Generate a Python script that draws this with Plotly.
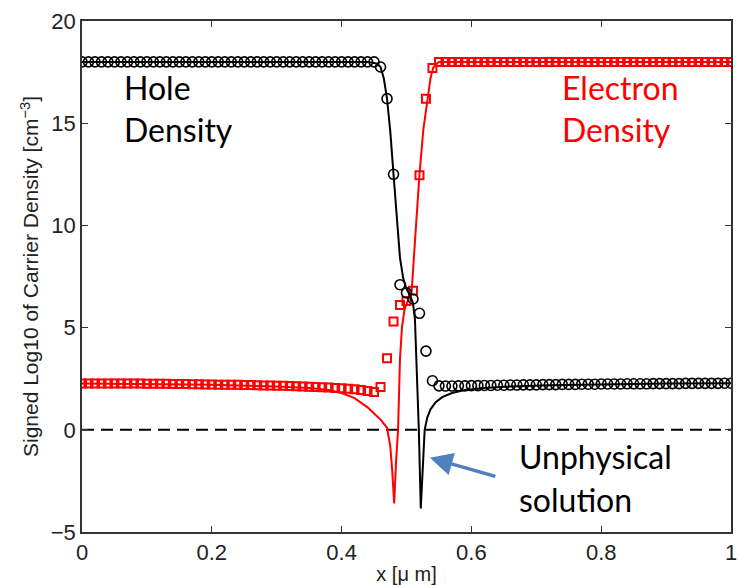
import plotly.graph_objects as go

# ---------------- data ----------------
# marker grid (x in um)
marker_x = [round(i * 0.01, 2) for i in range(101)]

# hole density markers (black circles)
hole_markers = ([18.0] * 46 +
                [17.75, 16.2, 12.5, 7.1, 6.7, 6.4, 5.7, 3.85, 2.4, 2.15,
                 2.14, 2.14, 2.15, 2.15, 2.16, 2.16, 2.17, 2.17, 2.18, 2.18,
                 2.19, 2.19, 2.2, 2.2, 2.2, 2.21, 2.21, 2.21, 2.22, 2.22,
                 2.22, 2.23, 2.23, 2.23, 2.24, 2.24, 2.24, 2.24, 2.25, 2.25,
                 2.25, 2.25, 2.26, 2.26, 2.26, 2.26, 2.26, 2.27, 2.27, 2.27,
                 2.27, 2.27, 2.27, 2.28, 2.28])

# electron density markers (red squares)
electron_markers = ([2.27, 2.27, 2.27, 2.27, 2.27, 2.27, 2.26, 2.26, 2.26, 2.26,
                     2.25, 2.25, 2.25, 2.25, 2.24, 2.24, 2.24, 2.23, 2.23, 2.22,
                     2.22, 2.21, 2.21, 2.2, 2.2, 2.19, 2.19, 2.18, 2.17, 2.17,
                     2.16, 2.15, 2.14, 2.13, 2.12, 2.11, 2.1, 2.08, 2.07, 2.05,
                     2.03, 2.01, 1.98, 1.95, 1.9, 1.85,
                     2.1, 3.5, 5.3, 6.1, 6.3, 6.8, 12.45, 16.2, 17.7] +
                    [18.0] * 46)

# hole density solution (black line)
hole_line_x = [0.0, 0.44, 0.45, 0.455, 0.46, 0.465, 0.47, 0.475, 0.48, 0.485,
               0.49, 0.495, 0.50, 0.505, 0.51, 0.513, 0.516, 0.519, 0.522, 0.525,
               0.528, 0.532, 0.537, 0.545, 0.555, 0.57, 0.59, 0.62, 0.66, 0.72,
               0.80, 0.90, 1.0]
hole_line_y = [18.0, 18.0, 17.95, 17.9, 17.75, 17.2, 16.2, 14.6, 12.5, 10.2,
               8.4, 7.4, 6.9, 6.6, 6.2, 5.4, 3.0, 0.0, -3.85, -1.5,
               0.0, 0.6, 1.0, 1.35, 1.6, 1.8, 1.95, 2.05, 2.12, 2.18,
               2.22, 2.26, 2.28]

# electron density solution (red line)
electron_line_x = [0.0, 0.1, 0.2, 0.3, 0.35, 0.38, 0.40, 0.42, 0.44, 0.45,
                   0.46, 0.47, 0.475, 0.478, 0.481, 0.484, 0.487, 0.49, 0.493, 0.497,
                   0.503, 0.508, 0.513, 0.52, 0.526, 0.532, 0.537, 0.541, 0.546, 0.55,
                   1.0]
electron_line_y = [2.27, 2.25, 2.2, 2.12, 2.05, 1.95, 1.8, 1.55, 1.1, 0.8,
                   0.5, 0.1, -0.8, -2.0, -3.6, -1.5, 0.0, 3.5, 5.0, 5.9,
                   6.4, 6.8, 9.2, 12.5, 14.7, 16.2, 17.2, 17.7, 17.9, 18.0,
                   18.0]

x_ticks = [0, 0.2, 0.4, 0.6, 0.8, 1]
x_tick_labels = ["0", "0.2", "0.4", "0.6", "0.8", "1"]
y_ticks = [-5, 0, 5, 10, 15, 20]
y_tick_labels = ["−5", "0", "5", "10", "15", "20"]

# ---------------- figure ----------------
fig = go.Figure()

fig.add_trace(go.Scatter(x=[0, 1], y=[0, 0], mode="lines",
                         line=dict(color="black", width=2, dash="12px,7px"),
                         hoverinfo="skip", showlegend=False))

fig.add_trace(go.Scatter(x=electron_line_x, y=electron_line_y, mode="lines",
                         line=dict(color="#ff0000", width=2), showlegend=False))
fig.add_trace(go.Scatter(x=marker_x, y=electron_markers, mode="markers",
                         marker=dict(symbol="square-open", size=8, color="#ff0000",
                                     line=dict(width=2, color="#ff0000")),
                         showlegend=False))
fig.add_trace(go.Scatter(x=hole_line_x, y=hole_line_y, mode="lines",
                         line=dict(color="black", width=2), showlegend=False))
fig.add_trace(go.Scatter(x=marker_x, y=hole_markers, mode="markers",
                         marker=dict(symbol="circle-open", size=10, color="black",
                                     line=dict(width=1.6, color="black")),
                         showlegend=False))

tick_font = dict(family="Liberation Sans, Arial", size=22, color="#222")
fig.update_xaxes(range=[0, 1], tickvals=x_ticks, ticktext=x_tick_labels,
                 ticks="inside", ticklen=6, tickcolor="#333", mirror="ticks",
                 showline=True, linecolor="#333", linewidth=1.5, showgrid=False,
                 zeroline=False, tickfont=tick_font, automargin=False,
                 title=dict(text="x [μ m]", standoff=3,
                            font=dict(family="Liberation Sans, Arial", size=20, color="#222")))
fig.update_yaxes(range=[-5, 20], tickvals=y_ticks, ticktext=y_tick_labels,
                 ticks="inside", ticklen=6, tickcolor="#333", mirror="ticks",
                 showline=True, linecolor="#333", linewidth=1.5, showgrid=False,
                 zeroline=False, tickfont=tick_font, automargin=False,
                 title=dict(text="Signed Log10 of Carrier Density [cm<sup>−3</sup>]", standoff=6,
                            font=dict(family="Liberation Sans, Arial", size=21, color="#222")))

ann_font = "Lato, Open Sans, sans-serif"
labels = [
    ("Hole", 0.061, 16.77, "black"),
    ("Density", 0.061, 14.67, "black"),
    ("Electron", 0.7365, 16.77, "#ff0000"),
    ("Density", 0.7365, 14.67, "#ff0000"),
    ("Unphysical", 0.67, -1.32, "black"),
    ("solution", 0.67, -3.42, "black"),
]
for txt, xx, yy, col in labels:
    fig.add_annotation(x=xx, y=yy, xref="x", yref="y", xanchor="left", yanchor="middle",
                       text=txt, showarrow=False, align="left",
                       font=dict(family=ann_font, size=32, color=col))
fig.add_annotation(x=0.536, y=-1.37, xref="x", yref="y", text="", showarrow=True,
                   ax=67, ay=19, arrowhead=2, arrowsize=1.3, arrowwidth=3.5,
                   arrowcolor="#4f81bd")

fig.update_layout(width=738, height=585, paper_bgcolor="white", plot_bgcolor="white",
                  margin=dict(l=82, r=7, t=21, b=53), showlegend=False)

fig.write_html("out.html", config={"displayModeBar": False},
               post_script="document.body.style.margin='0';document.body.style.overflow='hidden';")
